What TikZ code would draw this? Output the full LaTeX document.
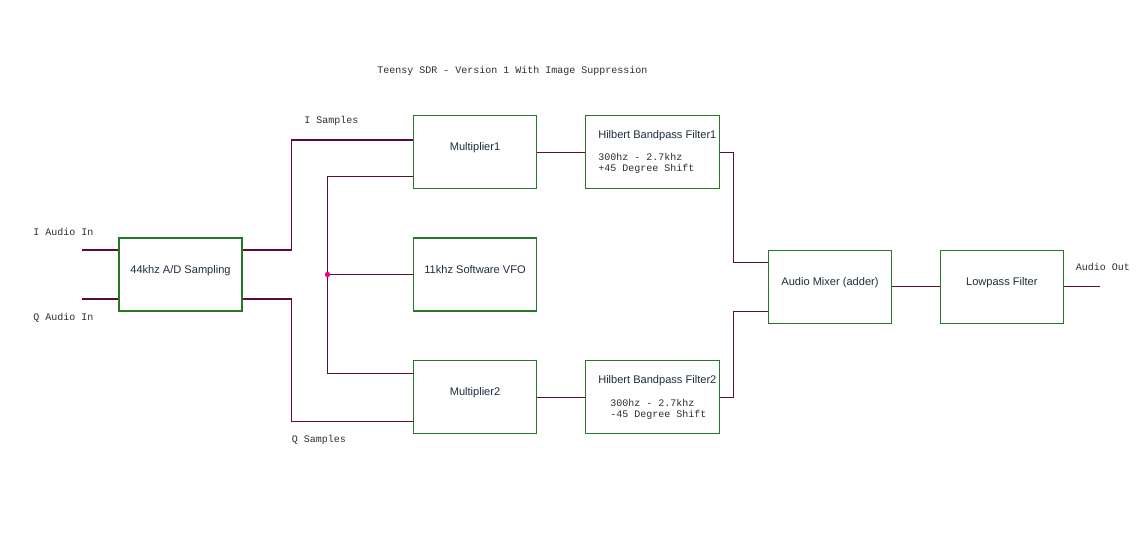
\documentclass[tikz,border=0pt]{standalone}
\usepackage{fontspec}
\setmainfont{Liberation Sans}
\setmonofont{Liberation Mono}
\usepackage{xcolor}
\usepackage{tikz}
\usetikzlibrary{positioning,calc}

\definecolor{boxgreen}{RGB}{38,120,38}
\definecolor{wirepurple}{RGB}{96,8,64}
\definecolor{boxtext}{RGB}{32,46,60}
\definecolor{monotext}{RGB}{45,45,45}

\begin{document}
\begin{tikzpicture}[x=0.75pt, y=-0.75pt,
    blk/.style={draw=boxgreen, line width=1pt, fill=white, minimum width=123*0.75pt, minimum height=73*0.75pt,
        inner sep=0pt, text=boxtext, font=\fontsize{8.3}{10}\selectfont, text height=7pt, text depth=9pt},
    hblk/.style={blk, minimum width=134*0.75pt},
    htitle/.style={anchor=base west, inner sep=0pt, text=boxtext, font=\fontsize{8.3}{10}\selectfont},
    mono/.style={anchor=base west, inner sep=0pt, text=monotext, align=left, font=\fontsize{7.5}{8.6}\selectfont\ttfamily},
    wire/.style={draw=wirepurple, line width=0.8pt}]
    \useasboundingbox (0,0) rectangle (1136,535);

    \node[mono] (title) at (377,74) {Teensy SDR - Version 1 With Image Suppression};

    % blocks
    \node[blk] (ad) at (180.5,274.5) {44khz A/D Sampling};
    \node[blk] (mult1) at (475,152.3) {Multiplier1};
    \node[blk] (vfo) at (475,274.5) {11khz Software VFO};
    \node[blk] (mult2) at (475,397.3) {Multiplier2};
    \node[hblk] (hil1) at (652.3,152.3) {};
    \node[hblk] (hil2) at (652.3,397.3) {};
    \node[blk] (mix) at (830,286.8) {Audio Mixer (adder)};
    \node[blk] (lpf) at (1001.8,286.8) {Lowpass Filter};

    % filter texts (base = last line)
    \node[htitle] (hil1t) at (598,138.3) {Hilbert Bandpass Filter1};
    \node[mono] (hil1m) at (598,171.7) {300hz - 2.7khz\\+45 Degree Shift};
    \node[htitle] (hil2t) at (598,383.3) {Hilbert Bandpass Filter2};
    \node[mono] (hil2m) at (610,417.7) {300hz - 2.7khz\\-45 Degree Shift};

    % inputs
    \coordinate (iin) at (82,250);
    \coordinate (qin) at (82,299);
    \node[mono] (ilab) at (33,235.5) {I Audio In};
    \node[mono] (qlab) at (33,320.5) {Q Audio In};
    \draw[wire] (iin) -- ($(ad.west)+(0,-24.5)$);
    \draw[wire] (qin) -- ($(ad.west)+(0,24.5)$);

    % I and Q samples
    \draw[wire] ($(ad.east)+(0,-24.5)$) -- ++(49,0) |- ($(mult1.west)+(0,-12.3)$);
    \draw[wire] ($(ad.east)+(0,24.5)$) -- ++(49,0) |- ($(mult2.west)+(0,24.5)$);
    \node[mono] (isam) at (304,123.3) {I Samples};
    \node[mono] (qsam) at (291.5,442.3) {Q Samples};

    % VFO feed
    \coordinate (jn) at (327.5,274.5);
    \draw[wire] (vfo.west) -- (jn);
    \draw[wire] (jn) |- ($(mult1.west)+(0,24)$);
    \draw[wire] (jn) |- ($(mult2.west)+(0,-24)$);
    \fill[magenta] (jn) circle (2pt);

    % filters and mixer
    \draw[wire] (mult1.east) -- (hil1.west);
    \draw[wire] (mult2.east) -- (hil2.west);
    \draw[wire] (hil1.east) -- ++(13.5,0) |- ($(mix.west)+(0,-24.5)$);
    \draw[wire] (hil2.east) -- ++(13.5,0) |- ($(mix.west)+(0,24.3)$);
    \draw[wire] (mix.east) -- (lpf.west);

    % output
    \coordinate (aout) at (1100,286.8);
    \draw[wire] (lpf.east) -- (aout);
    \node[mono] (olab) at (1075.5,270.7) {Audio Out};
\end{tikzpicture}
\end{document}
